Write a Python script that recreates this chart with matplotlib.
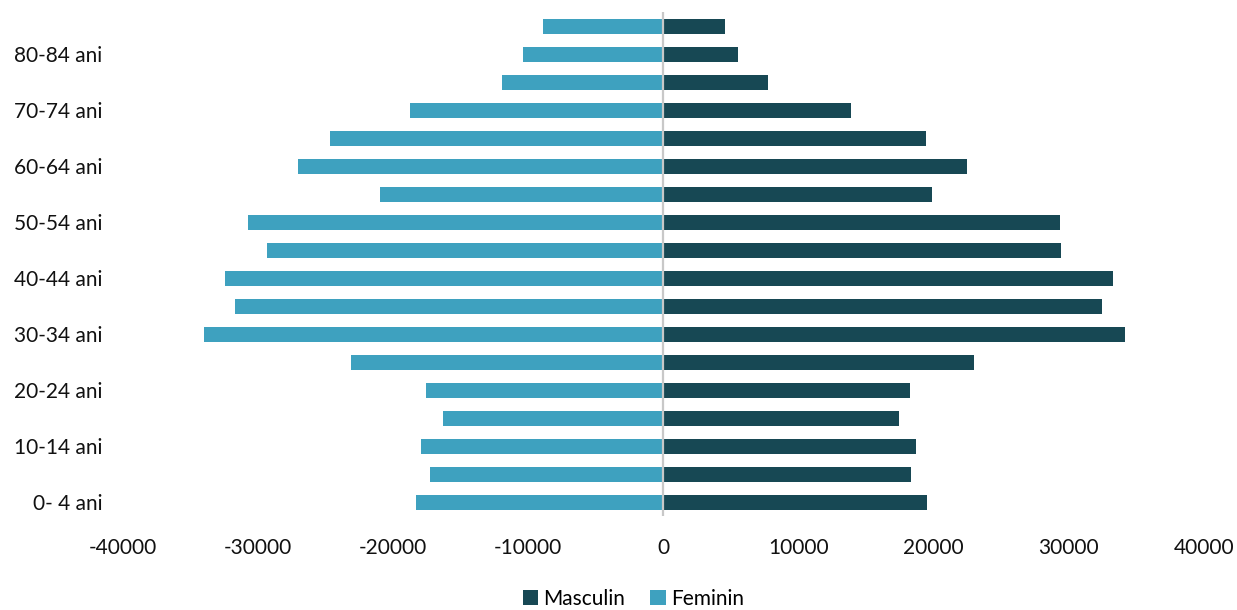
import numpy as np
import matplotlib
matplotlib.use('Agg')
import matplotlib.pyplot as plt

age_groups = ['0- 4 ani', '5-9 ani', '10-14 ani', '15-19 ani', '20-24 ani', '25-29 ani',
              '30-34 ani', '35-39 ani', '40-44 ani', '45-49 ani', '50-54 ani', '55-59 ani',
              '60-64 ani', '65-69 ani', '70-74 ani', '75-79 ani', '80-84 ani', '85+ ani']
masculin = [19480, 18300, 18670, 17400, 18220, 22960, 34150, 32440, 33260,
            29410, 29330, 19850, 22440, 19410, 13850, 7700, 5480, 4590]
feminin = [-18300, -17260, -17930, -16300, -17560, -23110, -34000, -31700, -32440,
           -29330, -30740, -20960, -27040, -24670, -18740, -11930, -10370, -8890]
x_ticks = [-40000, -30000, -20000, -10000, 0, 10000, 20000, 30000, 40000]

C_MASC = '#174854'
C_FEM = '#3EA1BF'

plt.rcParams['font.family'] = ['Lato', 'DejaVu Sans']

fig = plt.figure(figsize=(12.37, 6.10), dpi=100)
ax = fig.add_axes([0.0994, 0.154, 0.8739, 0.826])

y = np.arange(len(age_groups))
ax.barh(y, masculin, height=0.54, color=C_MASC, label='Masculin')
ax.barh(y, feminin, height=0.54, color=C_FEM, label='Feminin')
ax.axvline(0, color='#c8c8c8', lw=1.6, zorder=3)

ax.set_xlim(-40000, 40000)
ax.set_ylim(-0.5, len(age_groups) - 0.5)
ax.set_xticks(x_ticks)
ax.set_xticklabels([str(v) for v in x_ticks])
ax.set_yticks(y[::2])
ax.set_yticklabels(age_groups[::2])
ax.tick_params(axis='both', length=0, labelsize=15, colors='#111111')
ax.tick_params(axis='x', pad=16)
ax.tick_params(axis='y', pad=15)
for s in ax.spines.values():
    s.set_visible(False)

ax.legend(loc='center', bbox_to_anchor=(0.512, 0.018), bbox_transform=fig.transFigure,
          ncol=2, frameon=False, fontsize=15, handlelength=0.75, handleheight=0.75,
          handletextpad=0.25, columnspacing=1.2, borderpad=0.1)

fig.savefig('out.png', dpi=100)
plt.close(fig)
